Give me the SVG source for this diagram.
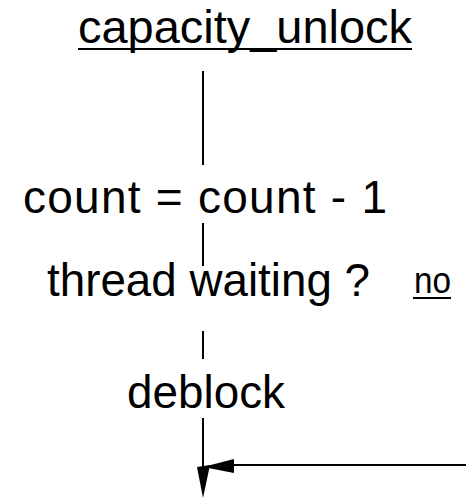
<svg xmlns="http://www.w3.org/2000/svg" width="466" height="499" viewBox="0 0 466 499">
<style>
.t{font-family:"Liberation Sans",Arial,sans-serif;fill:#000}
.ln{stroke:#000;stroke-width:2;fill:none}
.ul{stroke:#000;stroke-width:2}
.ah{fill:#000;stroke:none}
</style>
<rect width="466" height="499" fill="#fff"/>
<g id="title">
<text class="t" x="78" y="43" font-size="46" textLength="334" lengthAdjust="spacingAndGlyphs">capacity_unlock</text>
<line class="ul" x1="78" y1="49" x2="412" y2="49"/>
</g>
<g id="count">
<text class="t" x="23" y="213" font-size="46" textLength="364" lengthAdjust="spacing">count = count - 1</text>
</g>
<g id="thread_waiting">
<text class="t" x="47" y="296" font-size="46" textLength="323" lengthAdjust="spacingAndGlyphs">thread waiting ?</text>
</g>
<g id="no">
<text class="t" x="414" y="293" font-size="36" textLength="37" lengthAdjust="spacingAndGlyphs">no</text>
<line class="ul" x1="413" y1="298" x2="451" y2="298"/>
</g>
<g id="deblock">
<text class="t" x="127" y="408" font-size="46" textLength="158" lengthAdjust="spacingAndGlyphs">deblock</text>
</g>
<g id="connectors">
<line class="ln" x1="203" y1="71" x2="203" y2="165"/>
<line class="ln" x1="203" y1="223" x2="203" y2="266"/>
<line class="ln" x1="203" y1="331" x2="203" y2="359"/>
<line class="ln" x1="203" y1="418" x2="203" y2="468"/>
<polygon class="ah" points="197,467 210,465 203,498"/>
<line class="ln" x1="234" y1="465" x2="466" y2="465"/>
<polygon class="ah" points="203,467 234,459 234,473"/>
</g>
</svg>
